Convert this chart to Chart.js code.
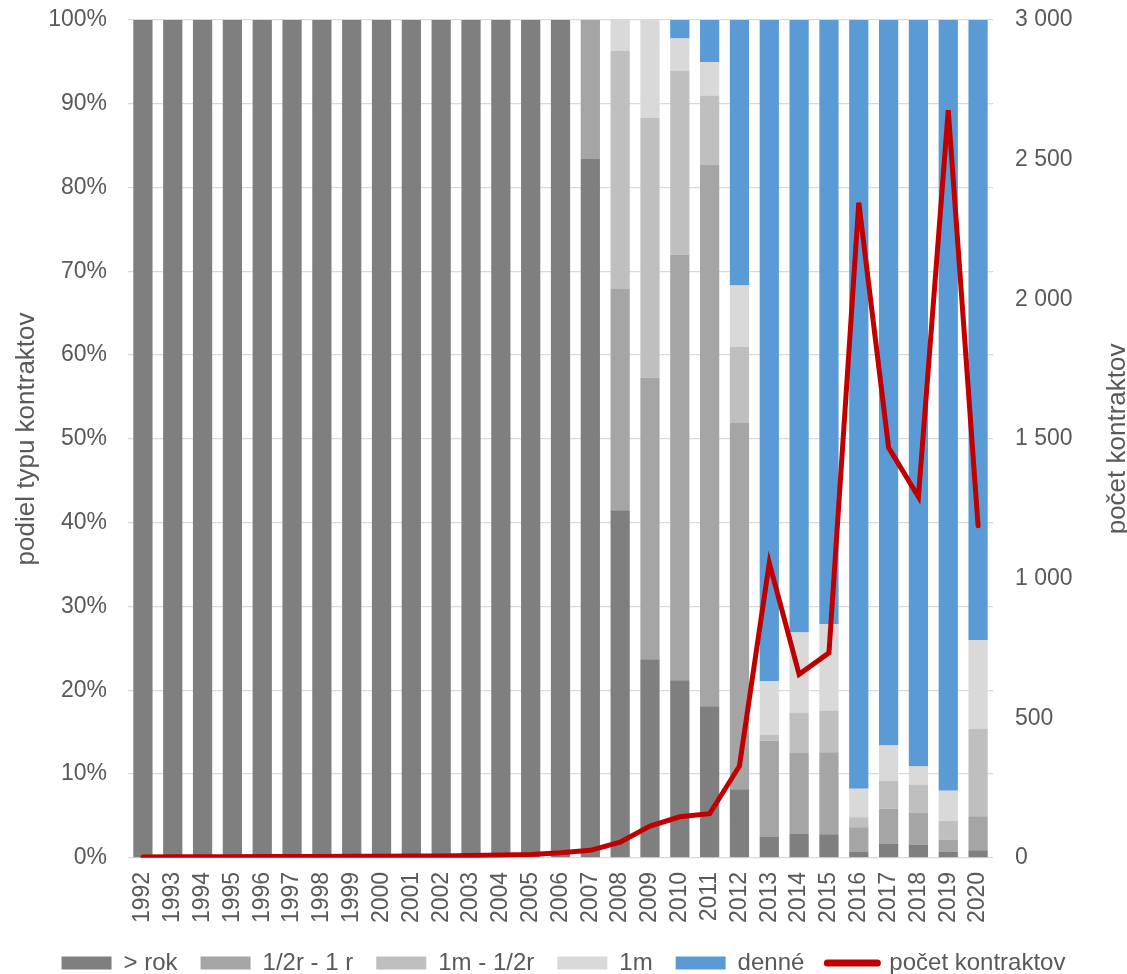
<!DOCTYPE html>
<html>
<head>
<meta charset="utf-8">
<script src="https://cdn.jsdelivr.net/npm/chart.js@4.4.1/dist/chart.umd.min.js"></script>
<style>
  html, body { margin: 0; padding: 0; background: #fff; }
  #wrap { width: 1127px; height: 974px; position: relative; }
</style>
</head>
<body>
<div id="wrap"><canvas id="c"></canvas></div>
<script>
const years = ['1992','1993','1994','1995','1996','1997','1998','1999','2000','2001','2002','2003','2004','2005','2006','2007','2008','2009','2010','2011','2012','2013','2014','2015','2016','2017','2018','2019','2020'];

const nadRok   = [100,100,100,100,100,100,100,100,100,100,100,100,100,100,100, 83.4, 41.5, 23.7, 21.2, 18.1,  8.2,  2.5,  2.9,  2.8,  0.75, 1.7,  1.6,  0.75, 0.9];
const polRok   = [0,0,0,0,0,0,0,0,0,0,0,0,0,0,0,                            16.6, 26.4, 33.6, 50.8, 64.6, 43.7, 11.5,  9.6,  9.8,  2.9,  4.2,  3.75, 1.45, 4.05];
const mesPol   = [0,0,0,0,0,0,0,0,0,0,0,0,0,0,0,                             0,   28.4, 31.0, 21.9,  8.3,  9.1,  0.7,  4.8,  5.0,  1.2,  3.3,  3.35, 2.2, 10.45];
const mesiac   = [0,0,0,0,0,0,0,0,0,0,0,0,0,0,0,                             0,    3.7, 11.7,  3.9,  4.0,  7.3,  6.4,  9.6, 10.3,  3.4,  4.2,  2.2,  3.6, 10.6];
const denne    = [0,0,0,0,0,0,0,0,0,0,0,0,0,0,0,                             0,    0,    0,    2.2,  5.0, 31.7, 78.9, 73.1, 72.1, 91.75, 86.6, 89.1, 92.0, 74.0];
const pocet    = [3,4,4,4,5,5,5,6,6,7,7,8,10,12,18, 27, 56, 114, 147, 158, 329, 1056, 657, 734, 2346, 1469, 1293, 2677, 1189];

const leftTicks = [0,10,20,30,40,50,60,70,80,90,100];
const rightTicks = [0,500,1000,1500,2000,2500,3000];
const rightTitle = 'počet kontraktov';

const FONT = '"Liberation Sans", Arial, sans-serif';
const TXT = '#595959';
const GRID = '#d9d9d9';

function barDs(label, data, color) {
  return {
    type: 'bar', label, data, backgroundColor: color, borderWidth: 0,
    yAxisID: 'y', stack: 's', order: 1,
    barPercentage: 0.645, categoryPercentage: 1.0
  };
}

// right axis title reading bottom-to-top, like the left one
const rightTitlePlugin = {
  id: 'rightTitle',
  afterDraw(ch) {
    const ctx = ch.ctx, a = ch.chartArea;
    ctx.save();
    ctx.translate(1118, (a.top + a.bottom) / 2);
    ctx.rotate(-Math.PI / 2);
    ctx.font = '26px ' + FONT;
    ctx.fillStyle = TXT;
    ctx.textAlign = 'center';
    ctx.textBaseline = 'middle';
    ctx.fillText(rightTitle, 0, 0);
    ctx.restore();
  }
};

function fixVert(s, w) {
  s.width = w;
  s.paddingTop = 0;
  s.paddingBottom = 0;
}

const chart = new Chart(document.getElementById('c'), {
  plugins: [rightTitlePlugin],
  data: {
    labels: years,
    datasets: [
      barDs('> rok', nadRok, '#7f7f7f'),
      barDs('1/2r - 1 r', polRok, '#a5a5a5'),
      barDs('1m - 1/2r', mesPol, '#bfbfbf'),
      barDs('1m', mesiac, '#d9d9d9'),
      barDs('denné', denne, '#5b9bd5'),
      {
        type: 'line', label: rightTitle, data: pocet,
        borderColor: '#c00000', backgroundColor: '#c00000', borderWidth: 5,
        pointRadius: 0, pointHoverRadius: 0, tension: 0, yAxisID: 'y1', order: 0,
        borderJoinStyle: 'miter', borderCapStyle: 'round'
      }
    ]
  },
  options: {
    responsive: true,
    maintainAspectRatio: false,
    animation: false,
    layout: { padding: { top: 20, left: 0, right: 0, bottom: -11 } },
    plugins: {
      tooltip: { enabled: false },
      legend: {
        position: 'bottom',
        labels: {
          font: { family: FONT, size: 24 },
          color: TXT,
          padding: 23,
          usePointStyle: true,
          pointStyleWidth: 50,
          boxHeight: 13,
          sort: (a, b) => a.datasetIndex - b.datasetIndex,
          generateLabels: (ch) => {
            const items = Chart.defaults.plugins.legend.labels.generateLabels(ch);
            return items.map(it => {
              const ds = ch.data.datasets[it.datasetIndex];
              if (ds.type === 'line') {
                it.pointStyle = 'line';
                it.lineWidth = 7;
                it.strokeStyle = '#c00000';
                it.lineCap = 'round';
              } else {
                it.pointStyle = 'rect';
                it.lineWidth = 0;
              }
              return it;
            });
          }
        }
      }
    },
    scales: {
      x: {
        stacked: true,
        grid: { display: false, drawTicks: false },
        border: { display: false },
        ticks: {
          color: TXT, font: { family: FONT, size: 23 },
          minRotation: 90, maxRotation: 90, autoSkip: false, padding: 14
        },
        afterFit: (s) => { s.height -= 9; }
      },
      y: {
        stacked: true,
        position: 'left',
        min: 0, max: 100,
        afterBuildTicks: (s) => { s.ticks = leftTicks.map(v => ({ value: v })); },
        grid: { color: GRID, lineWidth: 1.3, drawTicks: false },
        border: { display: false },
        ticks: {
          color: TXT, font: { family: FONT, size: 23 }, padding: 21,
          callback: (v) => v + '%'
        },
        title: {
          display: true, text: 'podiel typu kontraktov', color: TXT,
          font: { family: FONT, size: 26, lineHeight: 0.7 }, padding: { top: 18, bottom: 0 }
        },
        afterFit: (s) => fixVert(s, 128)
      },
      y1: {
        position: 'right',
        min: 0, max: 3000,
        afterBuildTicks: (s) => { s.ticks = rightTicks.map(v => ({ value: v })); },
        grid: { drawOnChartArea: false, drawTicks: false },
        border: { display: false },
        ticks: {
          color: TXT, font: { family: FONT, size: 23 }, padding: 22,
          callback: (v) => String(v).replace(/\B(?=(\d{3})+(?!\d))/g, ' ')
        },
        afterFit: (s) => fixVert(s, 134)
      }
    }
  }
});
</script>
</body>
</html>
